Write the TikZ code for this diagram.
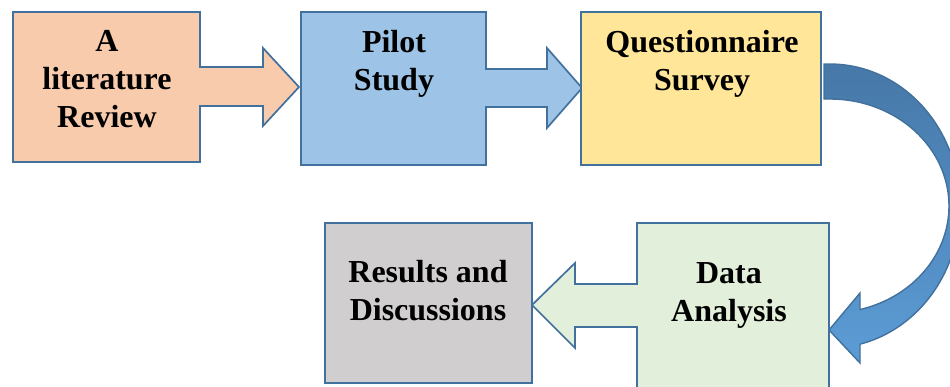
\documentclass[tikz,border=0pt]{standalone}
\usepackage{fontspec}
\setmainfont{Liberation Serif}
\definecolor{edge}{RGB}{65,113,156}
\definecolor{peach}{RGB}{248,203,173}
\definecolor{skyb}{RGB}{157,195,230}
\definecolor{lightyel}{RGB}{255,230,153}
\definecolor{lightgrn}{RGB}{226,239,218}
\definecolor{lightgry}{RGB}{208,206,206}
\definecolor{curvetop}{RGB}{70,120,168}
\definecolor{curvebot}{RGB}{92,156,214}
\begin{document}
\begin{tikzpicture}[x=1pt,y=-1pt,
  shapebox/.style={draw=edge,line width=1.7pt,line join=miter},
  lbl/.style={anchor=north,inner sep=0pt,align=center,font=\fontsize{32}{38}\selectfont\bfseries}]
\useasboundingbox (0,0) rectangle (950,386);
\clip (0,0) rectangle (950,386);

% Box 1 with right arrow
\path[shapebox,fill=peach] (13,12) -- (200,12) -- (200,67) -- (263,67) -- (263,48) -- (299,87)
  -- (263,126) -- (263,106) -- (200,106) -- (200,162) -- (13,162) -- cycle;
% Box 2 with right arrow
\path[shapebox,fill=skyb] (301,12) -- (486,12) -- (486,69) -- (547,69) -- (547,48) -- (582,88)
  -- (547,128) -- (547,107) -- (486,107) -- (486,165) -- (301,165) -- cycle;
% Box 3
\path[shapebox,fill=lightyel] (581,12) rectangle (821,165);
% Box 5
\path[shapebox,fill=lightgry] (325,223) rectangle (532,383);
% Box 4 with left arrow
\path[shapebox,fill=lightgrn] (637,223) -- (829,223) -- (829,400) -- (637,400) -- (637,327)
  -- (575,327) -- (575,348) -- (532,305) -- (575,263) -- (575,284) -- (637,284) -- cycle;

% Curved arrow
\coordinate (tail) at (824,64);
\coordinate (tip) at (829,330);
\path[draw=edge,line width=1.4pt,line join=miter,top color=curvetop,bottom color=curvebot]
  (tail) -- plot[domain=-90:76.66,samples=80] ({830+130*cos(\x)},{206+142*sin(\x)})
  -- (860,363) -- (tip) -- (860,293) --
  plot[domain=75.4:-90,samples=80] ({830+119*cos(\x)},{206+107*sin(\x)}) -- (824,99) -- cycle;

% Labels
\node[lbl] (lit) at (107,30) {A\\literature\\Review};
\node[lbl] (pilot) at (394,30) {Pilot\\Study};
\node[lbl] (quest) at (702,30) {Questionnaire\\Survey};
\node[lbl] (res) at (428,260) {Results and\\Discussions};
\node[lbl] (data) at (729,262) {Data\\Analysis};
\end{tikzpicture}
\end{document}
